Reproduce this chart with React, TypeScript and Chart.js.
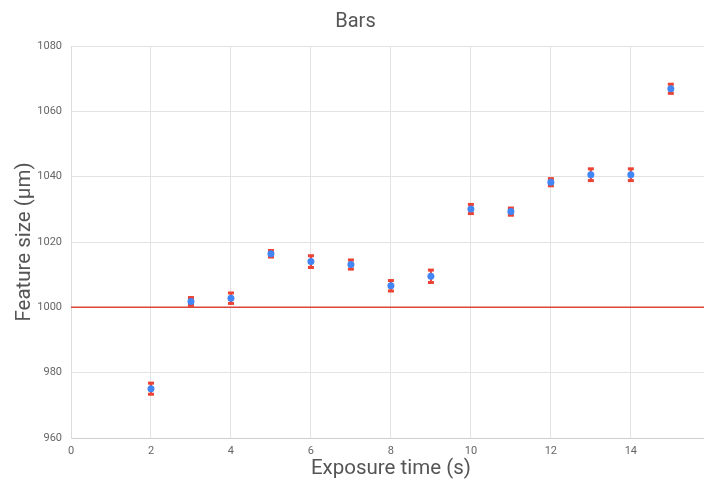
import React, { useEffect, useRef } from "react";
import { Chart, registerables } from "chart.js";

Chart.register(...registerables);

const exposureTimes = [2, 3, 4, 5, 6, 7, 8, 9, 10, 11, 12, 13, 14, 15];
const featureSizes = [975.1, 1001.8, 1002.8, 1016.4, 1014.0, 1013.1, 1006.6, 1009.5, 1030.1, 1029.3, 1038.3, 1040.6, 1040.6, 1066.9];
const featureErrors = [1.7, 1.2, 1.6, 1.0, 1.8, 1.4, 1.6, 1.9, 1.4, 1.1, 1.1, 1.8, 1.8, 1.4];
const targetSize = 1000;
const xRange = [0, 16];
const yRange = [960, 1080];

const errorBarPlugin = {
  id: "errorBars",
  beforeDatasetsDraw(chart: any) {
    const { ctx, scales, chartArea } = chart;
    const xs = scales.x;
    const ys = scales.y;
    ctx.save();
    ctx.beginPath();
    ctx.rect(chartArea.left, chartArea.top, chartArea.right - chartArea.left, chartArea.bottom - chartArea.top);
    ctx.clip();
    ctx.fillStyle = "#ea4335";
    ctx.strokeStyle = "#ea4335";
    ctx.lineWidth = 2;
    exposureTimes.forEach((t, i) => {
      const px = xs.getPixelForValue(t);
      const top = ys.getPixelForValue(featureSizes[i] + featureErrors[i]);
      const bot = ys.getPixelForValue(featureSizes[i] - featureErrors[i]);
      ctx.beginPath();
      ctx.moveTo(px, top);
      ctx.lineTo(px, bot);
      ctx.stroke();
      ctx.fillRect(px - 3, top - 1.5, 6, 3);
      ctx.fillRect(px - 3, bot - 1.5, 6, 3);
    });
    ctx.restore();
  },
};

export default function App() {
  const ref = useRef<HTMLCanvasElement>(null);
  useEffect(() => {
    if (!ref.current) return;
    Chart.defaults.font.family = "Roboto";
    const chart = new Chart(ref.current, {
      type: "scatter",
      data: {
        datasets: [
          {
            label: "Feature size",
            data: exposureTimes.map((t, i) => ({ x: t, y: featureSizes[i] })),
            backgroundColor: "#4285f4",
            borderColor: "#4285f4",
            pointRadius: 3.5,
            pointBorderWidth: 0,
            order: 1,
          },
          {
            label: "Target",
            type: "line",
            data: [
              { x: xRange[0], y: targetSize },
              { x: xRange[1], y: targetSize },
            ],
            borderColor: "#db4437",
            borderWidth: 1.5,
            pointRadius: 0,
            order: 2,
          } as any,
        ],
      },
      options: {
        animation: false,
        responsive: false,
        devicePixelRatio: 1,
        layout: { padding: { left: 0, right: 13, top: 0, bottom: 0 } },
        plugins: {
          legend: { display: false },
          tooltip: { enabled: false },
          title: {
            display: true,
            text: "Bars",
            color: "#555555",
            font: { size: 20, weight: "normal", family: "Roboto" },
            padding: { top: 10, bottom: 12 },
          },
        },
        scales: {
          x: {
            type: "linear",
            min: xRange[0],
            max: xRange[1],
            afterFit: (s: any) => {
              s.height = 46;
            },
            ticks: { stepSize: 2, color: "#666666", font: { size: 11 }, padding: 7, callback: (v: any) => String(v) },
            grid: { color: "#e3e3e3", drawTicks: false },
            border: { color: "#cfcfcf" },
            title: {
              display: true,
              text: "Exposure time (s)",
              color: "#555555",
              font: { size: 20.5, family: "Roboto" },
              padding: { top: 0, bottom: 3 },
            },
          },
          y: {
            min: yRange[0],
            max: yRange[1],
            afterFit: (s: any) => {
              s.width = 71;
            },
            ticks: { stepSize: 20, color: "#666666", font: { size: 11 }, padding: 9, callback: (v: any) => String(v) },
            grid: { color: "#e3e3e3", drawTicks: false },
            border: { color: "#dcdcdc" },
            title: {
              display: true,
              text: "Feature size (µm)",
              color: "#555555",
              font: { size: 20.5, family: "Roboto" },
              padding: { top: 13, bottom: 0 },
            },
          },
        },
      },
      plugins: [errorBarPlugin],
    });
    return () => chart.destroy();
  }, []);
  return (
    <div
      style={{
        position: "fixed",
        left: 0,
        top: 0,
        width: 704,
        height: 484,
        overflow: "hidden",
        background: "#ffffff",
      }}
    >
      <canvas ref={ref} width={724} height={484} style={{ width: 724, height: 484, display: "block" }} />
    </div>
  );
}
